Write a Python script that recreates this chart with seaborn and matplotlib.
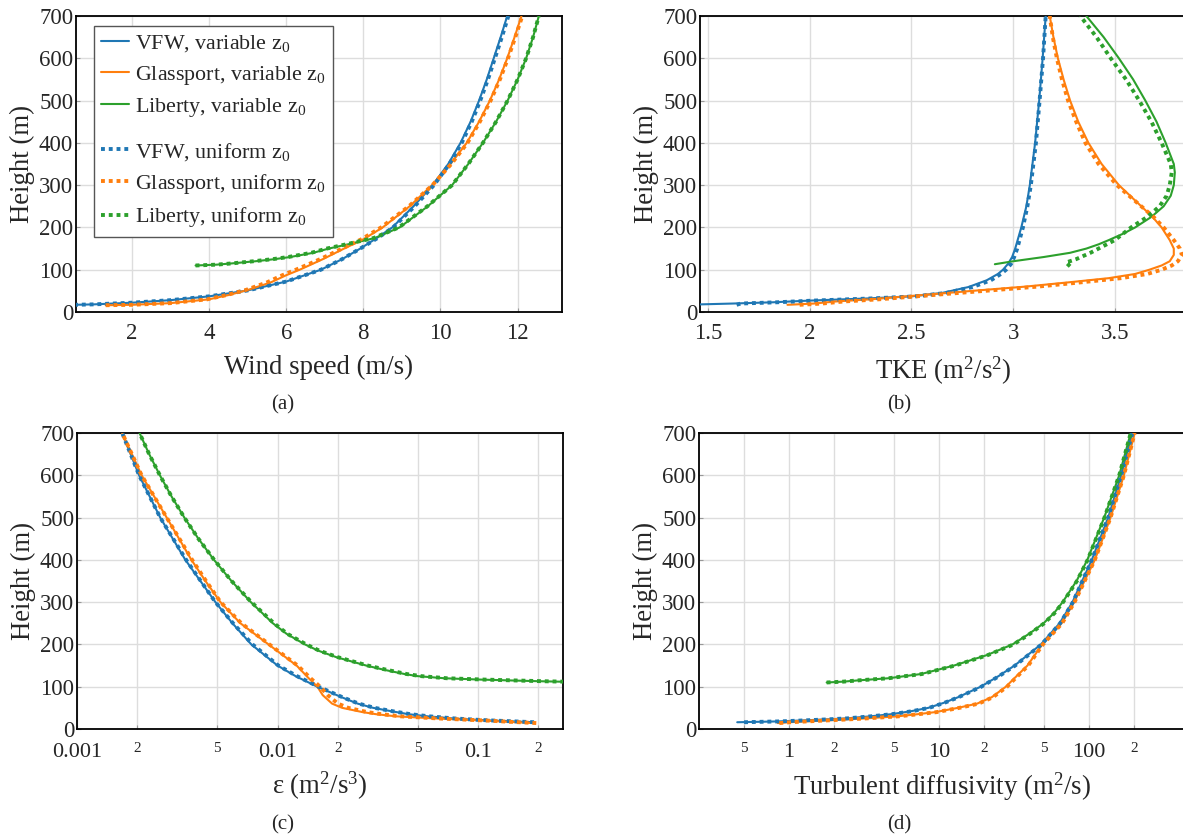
import numpy as np
import pandas as pd
import matplotlib
matplotlib.use("Agg")
import matplotlib.pyplot as plt
from matplotlib.lines import Line2D
import seaborn as sns

# ---------------- data ----------------
SITES = ["VFW", "Glassport", "Liberty"]
COLORS = ["#1f77b4", "#ff7f0e", "#2ca02c"]

# (a) wind speed (m/s)
ws_vfw_h = [17, 18, 22, 28, 37, 51, 72, 100, 125, 150, 175, 200, 250, 300, 350, 400, 450, 500, 550, 600, 650, 700]
ws_vfw_var = [0.5, 1.0, 2.0, 3.0, 4.0, 5.0, 6.0, 6.9, 7.45, 7.92, 8.35, 8.75, 9.3, 9.8, 10.2, 10.52, 10.78, 11.0, 11.2, 11.38, 11.56, 11.73]
ws_vfw_uni = [0.5, 1.0, 2.0, 3.0, 4.0, 5.0, 6.0, 6.9, 7.45, 7.92, 8.37, 8.77, 9.33, 9.83, 10.23, 10.55, 10.81, 11.03, 11.23, 11.41, 11.59, 11.76]
ws_gla_h = [16, 17, 21, 30, 40, 52, 70, 87, 100, 125, 150, 172, 200, 250, 300, 350, 400, 450, 500, 550, 600, 650, 700]
ws_gla_var = [1.32, 2.0, 3.0, 4.0, 4.5, 5.0, 5.6, 6.0, 6.35, 6.95, 7.5, 8.0, 8.5, 9.2, 9.78, 10.26, 10.68, 11.0, 11.28, 11.52, 11.73, 11.92, 12.1]
ws_gla_uni = [1.32, 2.0, 3.0, 3.95, 4.45, 4.95, 5.5, 5.9, 6.25, 6.88, 7.45, 7.95, 8.46, 9.18, 9.79, 10.28, 10.7, 11.02, 11.3, 11.54, 11.75, 11.94, 12.12]
ws_lib_h = [110, 112, 115, 120, 125, 130, 140, 150, 160, 175, 200, 250, 300, 350, 400, 450, 500, 550, 600, 650, 700]
ws_lib_var = [3.65, 4.2, 4.6, 5.2, 5.7, 6.1, 6.7, 7.1, 7.6, 8.3, 8.94, 9.67, 10.3, 10.72, 11.1, 11.44, 11.74, 12.0, 12.22, 12.4, 12.55]
ws_lib_uni = [3.65, 4.2, 4.6, 5.15, 5.65, 6.05, 6.65, 7.05, 7.55, 8.27, 8.92, 9.66, 10.3, 10.72, 11.1, 11.44, 11.74, 12.0, 12.22, 12.4, 12.55]

# (b) TKE (m2/s2)
tke_vfw_h = [18, 20, 23, 27, 32, 37, 45, 59, 75, 90, 100, 114, 130, 150, 200, 250, 300, 400, 500, 600, 700]
tke_vfw_var = [1.46, 1.62, 1.82, 2.0, 2.28, 2.5, 2.65, 2.78, 2.87, 2.925, 2.95, 2.975, 2.995, 3.01, 3.04, 3.065, 3.082, 3.108, 3.128, 3.145, 3.16]
tke_vfw_uni_h = [17, 20, 23, 27, 32, 37, 45, 59, 75, 90, 100, 114, 130, 150, 200, 250, 300, 400, 500, 600, 700]
tke_vfw_uni = [1.64, 1.66, 1.84, 2.02, 2.3, 2.52, 2.67, 2.8, 2.89, 2.94, 2.965, 2.99, 3.005, 3.02, 3.048, 3.07, 3.087, 3.112, 3.13, 3.147, 3.16]
tke_gla_h = [17, 20, 25, 30, 40, 50, 60, 70, 80, 90, 100, 110, 120, 135, 150, 170, 200, 225, 250, 300, 350, 400, 450, 500, 550, 600, 650, 700]
tke_gla_var = [1.89, 2.02, 2.13, 2.3, 2.55, 2.8, 3.06, 3.27, 3.47, 3.6, 3.67, 3.73, 3.77, 3.79, 3.79, 3.77, 3.73, 3.685, 3.63, 3.52, 3.435, 3.37, 3.32, 3.28, 3.248, 3.22, 3.198, 3.18]
tke_gla_uni = [1.95, 2.06, 2.17, 2.34, 2.6, 2.86, 3.12, 3.33, 3.53, 3.66, 3.73, 3.78, 3.81, 3.83, 3.82, 3.79, 3.74, 3.69, 3.63, 3.51, 3.42, 3.355, 3.31, 3.27, 3.24, 3.215, 3.195, 3.18]
tke_lib_h = [113, 120, 130, 140, 150, 160, 170, 185, 200, 225, 250, 275, 300, 330, 350, 400, 450, 500, 550, 600, 650, 700]
tke_lib_var = [2.91, 3.0, 3.15, 3.28, 3.36, 3.42, 3.47, 3.54, 3.6, 3.68, 3.74, 3.775, 3.79, 3.795, 3.79, 3.75, 3.705, 3.65, 3.59, 3.52, 3.445, 3.36]
tke_lib_uni_h = [108, 117, 125, 140, 150, 160, 170, 185, 200, 225, 250, 275, 300, 330, 350, 400, 450, 500, 550, 600, 650, 700]
tke_lib_uni = [3.28, 3.26, 3.31, 3.38, 3.42, 3.46, 3.5, 3.54, 3.58, 3.66, 3.72, 3.755, 3.77, 3.78, 3.775, 3.73, 3.68, 3.62, 3.555, 3.48, 3.41, 3.33]

# (c) dissipation epsilon (m2/s3)
eps_vfw_h = [16, 18, 20, 22, 25, 30, 35, 42, 50, 60, 75, 100, 125, 150, 200, 250, 300, 400, 500, 600, 700]
eps_vfw_var = [0.187, 0.15, 0.117, 0.095, 0.075, 0.056, 0.045, 0.037, 0.030, 0.0251, 0.0209, 0.0158, 0.0123, 0.0100, 0.0074, 0.00596, 0.0049, 0.00347, 0.0026, 0.00204, 0.00168]
eps_vfw_uni = [0.19, 0.152, 0.119, 0.097, 0.076, 0.057, 0.046, 0.0375, 0.0305, 0.0254, 0.0211, 0.016, 0.0125, 0.0101, 0.0075, 0.006, 0.0049, 0.0035, 0.0026, 0.00204, 0.00168]
eps_gla_h = [14, 17, 20, 25, 30, 35, 40, 50, 60, 80, 100, 120, 150, 200, 250, 300, 350, 400, 500, 600, 700]
eps_gla_var = [0.188, 0.14, 0.107, 0.061, 0.039, 0.031, 0.0265, 0.021, 0.0187, 0.0168, 0.0158, 0.0143, 0.01245, 0.00902, 0.00653, 0.00519, 0.00437, 0.00372, 0.0028, 0.0021, 0.00168]
eps_gla_uni = [0.195, 0.145, 0.11, 0.063, 0.041, 0.033, 0.028, 0.0225, 0.02, 0.0178, 0.0163, 0.0146, 0.0126, 0.0091, 0.0066, 0.0052, 0.0044, 0.00375, 0.0028, 0.0021, 0.00168]
eps_lib_h = [110, 113, 117, 120, 125, 130, 140, 150, 170, 185, 200, 225, 250, 300, 350, 400, 450, 500, 550, 600, 650, 700]
eps_lib_var = [0.40, 0.2, 0.1, 0.068, 0.05, 0.043, 0.034, 0.0277, 0.0196, 0.016, 0.0137, 0.0111, 0.00948, 0.00736, 0.00589, 0.00482, 0.00403, 0.00343, 0.00296, 0.00259, 0.00229, 0.00205]
eps_lib_uni = [0.42, 0.21, 0.105, 0.07, 0.052, 0.044, 0.035, 0.0282, 0.0199, 0.0162, 0.0139, 0.0112, 0.0096, 0.0074, 0.0059, 0.00483, 0.00403, 0.00343, 0.00296, 0.00259, 0.00229, 0.00205]

# (d) turbulent diffusivity (m2/s)
kd_vfw_h = [16, 17, 18, 20, 22, 25, 30, 35, 42, 50, 62, 75, 100, 125, 150, 200, 250, 300, 400, 500, 600, 700]
kd_vfw_var = [0.45, 0.63, 0.85, 1.19, 1.6, 2.4, 3.5, 4.8, 6.5, 8.5, 10.8, 13.4, 19, 25, 32, 48, 64, 78, 105, 135, 165, 196]
kd_vfw_uni = [0.5, 0.65, 0.87, 1.2, 1.62, 2.42, 3.52, 4.85, 6.6, 8.6, 10.9, 13.5, 19.2, 25.2, 32.3, 48.5, 64.5, 78.5, 105, 135, 165, 196]
kd_gla_h = [14, 16, 18, 20, 22, 25, 30, 35, 40, 50, 60, 75, 100, 125, 150, 200, 250, 300, 400, 500, 600, 700]
kd_gla_var = [0.84, 1.0, 1.3, 1.7, 2.2, 3.2, 5.3, 7.2, 9.5, 13.4, 18, 22.5, 28, 33, 39, 49, 66, 80, 110, 140, 172, 203]
kd_gla_uni = [0.86, 1.02, 1.32, 1.72, 2.25, 3.25, 5.4, 7.3, 9.7, 13.7, 18.4, 22.9, 28.5, 33.5, 39.5, 49.5, 66.5, 80.5, 110, 140, 172, 203]
kd_lib_h = [110, 112, 115, 120, 130, 140, 150, 175, 200, 225, 250, 275, 300, 350, 400, 500, 600, 700]
kd_lib_var = [1.78, 2.3, 2.9, 4.6, 7.6, 9.8, 12.6, 21, 31, 40, 50, 59, 67, 83, 98, 127, 160, 191]
kd_lib_uni = [1.78, 2.3, 2.9, 4.6, 7.7, 9.9, 12.8, 21.3, 31.5, 40.5, 50.5, 59.5, 67.5, 83.5, 98.5, 127.5, 160, 191]

# axis ticks / labels
ws_ticks = [2, 4, 6, 8, 10, 12]
tke_ticks = [1.5, 2, 2.5, 3, 3.5]
tke_ticklabels = ["1.5", "2", "2.5", "3", "3.5"]
eps_major = [0.001, 0.01, 0.1]
eps_major_labels = ["0.001", "0.01", "0.1"]
eps_minor = [0.002, 0.005, 0.02, 0.05, 0.2]
eps_minor_labels = ["2", "5", "2", "5", "2"]
kd_major = [1, 10, 100]
kd_major_labels = ["1", "10", "100"]
kd_minor = [0.5, 2, 5, 20, 50, 200]
kd_minor_labels = ["5", "2", "5", "2", "5", "2"]
height_ticks = [0, 100, 200, 300, 400, 500, 600, 700]

# ---------------- style ----------------
sns.set_style("ticks")
plt.rcParams["font.family"] = ["Liberation Serif", "DejaVu Serif"]
plt.rcParams["mathtext.fontset"] = "custom"
plt.rcParams["mathtext.rm"] = "Liberation Serif"
plt.rcParams["mathtext.it"] = "Liberation Serif:italic"
plt.rcParams["mathtext.bf"] = "Liberation Serif:bold"

W, H = 1183, 836
fig = plt.figure(figsize=(W / 100, H / 100), dpi=100)

AX_W, AX_H = 486, 296
def add_ax(left_px, top_px):
    return fig.add_axes([left_px / W, 1 - (top_px + AX_H) / H, AX_W / W, AX_H / H])

ax_a = add_ax(76, 16)
ax_b = add_ax(700, 16)
ax_c = add_ax(77, 433)
ax_d = add_ax(699, 433)

ax_c.set_xscale("log")
ax_d.set_xscale("log")

SOLID_LW = 1.5
DOT_LW = 2.8
DOT = (0, (1, 1))

def draw(ax, series):
    for (h_var, v_var, h_uni, v_uni), color in zip(series, COLORS):
        df_v = pd.DataFrame({"h": h_var, "v": v_var})
        df_u = pd.DataFrame({"h": h_uni, "v": v_uni})
        sns.lineplot(data=df_v, x="v", y="h", orient="y", sort=False, estimator=None,
                     color=color, linewidth=SOLID_LW, ax=ax, zorder=3)
        sns.lineplot(data=df_u, x="v", y="h", orient="y", sort=False, estimator=None,
                     color=color, linewidth=DOT_LW, linestyle=DOT, ax=ax, zorder=4)

draw(ax_a, [(ws_vfw_h, ws_vfw_var, ws_vfw_h, ws_vfw_uni),
            (ws_gla_h, ws_gla_var, ws_gla_h, ws_gla_uni),
            (ws_lib_h, ws_lib_var, ws_lib_h, ws_lib_uni)])
draw(ax_b, [(tke_vfw_h, tke_vfw_var, tke_vfw_uni_h, tke_vfw_uni),
            (tke_gla_h, tke_gla_var, tke_gla_h, tke_gla_uni),
            (tke_lib_h, tke_lib_var, tke_lib_uni_h, tke_lib_uni)])
draw(ax_c, [(eps_vfw_h, eps_vfw_var, eps_vfw_h, eps_vfw_uni),
            (eps_gla_h, eps_gla_var, eps_gla_h, eps_gla_uni),
            (eps_lib_h, eps_lib_var, eps_lib_h, eps_lib_uni)])
draw(ax_d, [(kd_vfw_h, kd_vfw_var, kd_vfw_h, kd_vfw_uni),
            (kd_gla_h, kd_gla_var, kd_gla_h, kd_gla_uni),
            (kd_lib_h, kd_lib_var, kd_lib_h, kd_lib_uni)])

TICK_FS = 16.5
LABEL_FS = 19.3
MINOR_FS = 11

for ax in (ax_a, ax_b, ax_c, ax_d):
    ax.set_ylim(0, 700)
    ax.set_yticks(height_ticks)
    ax.set_ylabel("Height (m)", fontsize=LABEL_FS, labelpad=3)
    ax.grid(True, which="major", color="#dddddd", linewidth=1.0, zorder=0)
    ax.set_axisbelow(True)
    for s in ax.spines.values():
        s.set_linewidth(1.3)
        s.set_color("black")
    ax.tick_params(axis="both", which="both", direction="in", length=3, width=0.8,
                   color="#999999", labelsize=TICK_FS)
    ax.tick_params(axis="y", pad=2)
    ax.tick_params(axis="x", which="major", pad=8)
    if ax.get_legend() is not None:
        ax.get_legend().remove()

ax_a.set_xlim(0.55, 13.15)
ax_a.set_xticks(ws_ticks)
ax_a.set_xlabel("Wind speed (m/s)", fontsize=LABEL_FS, labelpad=8)

ax_b.set_xlim(1.46, 3.85)
ax_b.set_xticks(tke_ticks)
ax_b.set_xticklabels(tke_ticklabels)
ax_b.set_xlabel(r"TKE (m$^{2}$/s$^{2}$)", fontsize=LABEL_FS, labelpad=8)

ax_c.set_xlim(0.001, 0.265)
ax_c.set_xticks(eps_major)
ax_c.set_xticklabels(eps_major_labels)
ax_c.set_xticks(eps_minor, minor=True)
ax_c.set_xticklabels(eps_minor_labels, minor=True)
ax_c.set_xlabel(r"ε (m$^{2}$/s$^{3}$)", fontsize=LABEL_FS, labelpad=6)

ax_d.set_xlim(0.25, 440)
ax_d.set_xticks(kd_major)
ax_d.set_xticklabels(kd_major_labels)
ax_d.set_xticks(kd_minor, minor=True)
ax_d.set_xticklabels(kd_minor_labels, minor=True)
ax_d.set_xlabel(r"Turbulent diffusivity (m$^{2}$/s)", fontsize=LABEL_FS, labelpad=6)

for ax in (ax_c, ax_d):
    ax.grid(True, which="minor", axis="x", color="#dddddd", linewidth=1.0, zorder=0)
    ax.tick_params(axis="x", which="minor", labelsize=MINOR_FS, pad=9.5)
    ax.tick_params(axis="x", which="major", labelsize=TICK_FS - 0.5, pad=10)

# legend
handles, labels = [], []
for site, c in zip(SITES, COLORS):
    handles.append(Line2D([], [], color=c, lw=SOLID_LW))
    labels.append(site + r", variable $\mathrm{z}_0$")
for site, c in zip(SITES, COLORS):
    handles.append(Line2D([], [], color=c, lw=DOT_LW, linestyle=DOT))
    labels.append(site + r", uniform $\mathrm{z}_0$")
leg = ax_a.legend(handles, labels, loc="upper left",
                  bbox_to_anchor=((94 - 76) / AX_W, 1 - (26 - 16) / AX_H),
                  borderaxespad=0, fontsize=15.8, frameon=True, fancybox=False,
                  edgecolor="#555555", framealpha=1, handlelength=1.25,
                  handletextpad=0.3, labelspacing=0.43, borderpad=0.33)
leg.get_frame().set_linewidth(1.0)
try:
    from matplotlib.offsetbox import DrawingArea
    col = leg._legend_handle_box.get_children()[0]
    col._children.insert(3, DrawingArea(1, 2))
except Exception:
    pass

# panel captions
for txt, xpx, ypx in [("(a)", 283, 405), ("(b)", 899, 405), ("(c)", 283, 825), ("(d)", 899, 825)]:
    fig.text(xpx / W, 1 - ypx / H, txt, ha="center", va="center", fontsize=15)

fig.savefig("out.png", dpi=100)
